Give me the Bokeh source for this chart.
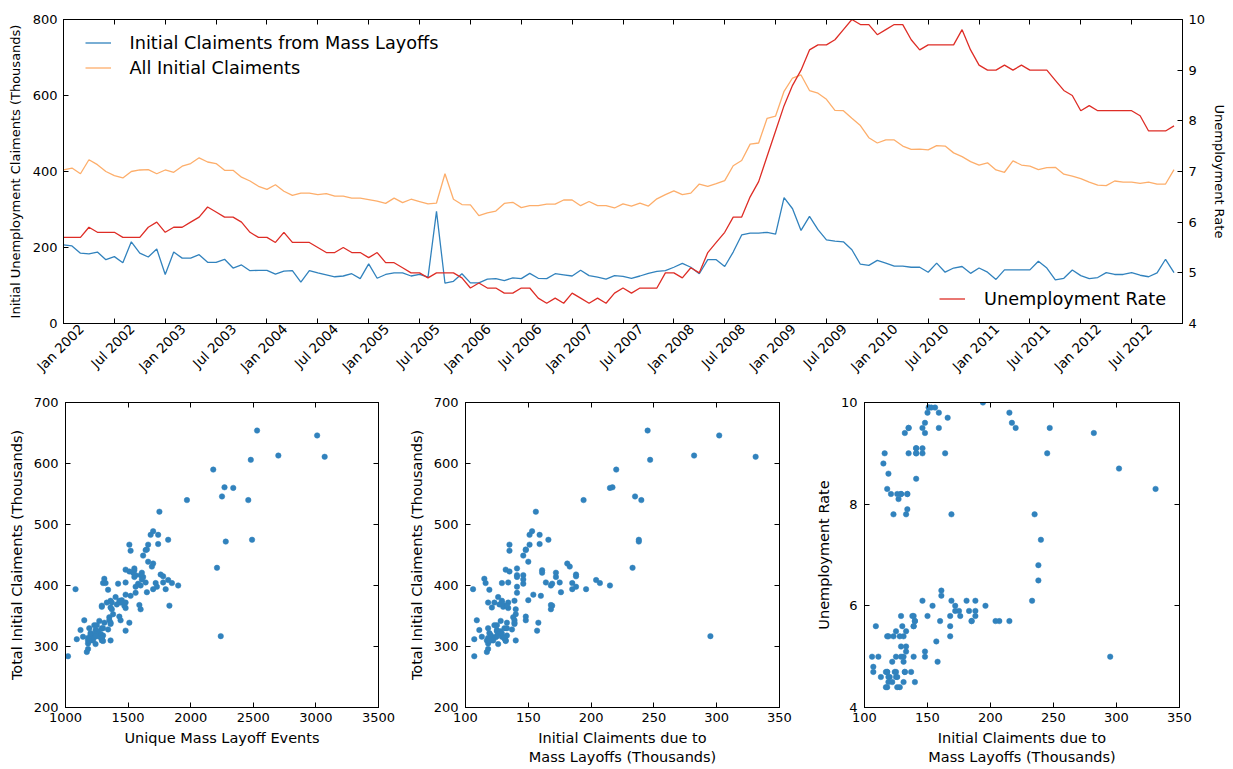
import math
from bokeh.plotting import figure
from bokeh.models import (LinearAxis, Range1d, FixedTicker, CustomJSTickFormatter,
                          Legend, LegendItem)
from bokeh.layouts import column, row
from bokeh.embed import file_html
from bokeh.resources import INLINE

# ---------------- data (monthly, Jan 2002 .. Dec 2012) ----------------
months = list(range(132))  # month index, 0 = Jan 2002

tick_months = [0, 6, 12, 18, 24, 30, 36, 42, 48, 54, 60, 66, 72, 78, 84, 90, 96, 102, 108, 114, 120, 126]
tick_labels = ["Jan 2002", "Jul 2002", "Jan 2003", "Jul 2003", "Jan 2004", "Jul 2004",
               "Jan 2005", "Jul 2005", "Jan 2006", "Jul 2006", "Jan 2007", "Jul 2007",
               "Jan 2008", "Jul 2008", "Jan 2009", "Jul 2009", "Jan 2010", "Jul 2010",
               "Jan 2011", "Jul 2011", "Jan 2012", "Jul 2012"]

mass_layoff_claims = [
    207, 204, 185, 183, 188, 168, 176, 160, 215, 185, 175, 196,
    129, 188, 172, 172, 181, 161, 161, 169, 146, 154, 139, 140,
    140, 130, 138, 139, 109, 139, 133, 128, 123, 125, 131, 118,
    157, 119, 129, 133, 133, 125, 129, 122, 295, 106, 111, 131,
    107, 107, 117, 118, 113, 120, 118, 132, 119, 118, 131, 128,
    125, 140, 126, 122, 117, 126, 124, 119, 125, 132, 137, 139,
    148, 158, 148, 131, 168, 168, 150, 188, 233, 238, 238, 240,
    235, 331, 302, 245, 282, 247, 220, 217, 215, 194, 156, 153,
    166, 159, 151, 151, 148, 148, 135, 159, 135, 146, 150, 132,
    146, 135, 116, 141, 141, 141, 141, 164, 146, 115, 119, 141,
    126, 118, 121, 134, 129, 129, 134, 127, 123, 133, 169, 134]

all_claims = [
    404, 409, 394, 431, 418, 400, 389, 383, 400, 404, 405, 394,
    404, 398, 414, 421, 436, 425, 421, 403, 403, 385, 375, 361,
    353, 365, 348, 337, 343, 343, 339, 342, 335, 335, 330, 330,
    326, 322, 316, 330, 318, 327, 321, 315, 317, 394, 327, 313,
    312, 284, 291, 296, 316, 319, 305, 310, 310, 314, 314, 325,
    325, 310, 321, 310, 310, 304, 315, 309, 317, 309, 328, 339,
    349, 339, 343, 367, 361, 368, 376, 415, 429, 472, 475, 540,
    546, 611, 646, 654, 613, 606, 590, 561, 560, 540, 521, 489,
    475, 483, 483, 467, 458, 459, 457, 468, 467, 449, 439, 426,
    417, 423, 404, 398, 428, 417, 414, 405, 410, 411, 393, 388,
    381, 372, 364, 363, 375, 372, 372, 369, 372, 367, 367, 405]

unemployment_rate = [
    5.7, 5.7, 5.7, 5.9, 5.8, 5.8, 5.8, 5.7, 5.7, 5.7, 5.9, 6.0,
    5.8, 5.9, 5.9, 6.0, 6.1, 6.3, 6.2, 6.1, 6.1, 6.0, 5.8, 5.7,
    5.7, 5.6, 5.8, 5.6, 5.6, 5.6, 5.5, 5.4, 5.4, 5.5, 5.4, 5.4,
    5.3, 5.4, 5.2, 5.2, 5.1, 5.0, 5.0, 4.9, 5.0, 5.0, 5.0, 4.9,
    4.7, 4.8, 4.7, 4.7, 4.6, 4.6, 4.7, 4.7, 4.5, 4.4, 4.5, 4.4,
    4.6, 4.5, 4.4, 4.5, 4.4, 4.6, 4.7, 4.6, 4.7, 4.7, 4.7, 5.0,
    5.0, 4.9, 5.1, 5.0, 5.4, 5.6, 5.8, 6.1, 6.1, 6.5, 6.8, 7.3,
    7.8, 8.3, 8.7, 9.0, 9.4, 9.5, 9.5, 9.6, 9.8, 10.0, 9.9, 9.9,
    9.7, 9.8, 9.9, 9.9, 9.6, 9.4, 9.5, 9.5, 9.5, 9.5, 9.8, 9.4,
    9.1, 9.0, 9.0, 9.1, 9.0, 9.1, 9.0, 9.0, 9.0, 8.8, 8.6, 8.5,
    8.2, 8.3, 8.2, 8.2, 8.2, 8.2, 8.2, 8.1, 7.8, 7.8, 7.8, 7.9]

mass_layoff_events = [
    1850, 1820, 1700, 1690, 1760, 1600, 1650, 1520, 1900, 1720, 1640, 1800,
    1300, 1730, 1620, 1610, 1700, 1550, 1540, 1580, 1420, 1480, 1360, 1370,
    1380, 1290, 1350, 1360, 1150, 1350, 1310, 1270, 1230, 1250, 1290, 1190,
    1480, 1200, 1270, 1300, 1300, 1240, 1280, 1220, 2240, 1080, 1120, 1290,
    1090, 1020, 1170, 1180, 1140, 1200, 1180, 1290, 1190, 1180, 1290, 1260,
    1250, 1360, 1240, 1220, 1180, 1240, 1230, 1190, 1240, 1300, 1340, 1360,
    1430, 1510, 1440, 1290, 1600, 1590, 1450, 1780, 2210, 2280, 2490, 2460,
    2250, 3070, 3010, 2530, 2700, 2480, 2180, 2270, 2340, 1970, 1750, 1700,
    1820, 1740, 1680, 1660, 1640, 1650, 1520, 1740, 1510, 1620, 1660, 1480,
    1600, 1510, 1320, 1560, 1550, 1560, 1550, 1780, 1610, 1310, 1340, 1560,
    1400, 1330, 1360, 1480, 1430, 1440, 1480, 1410, 1370, 1470, 1830, 1480]

# ---------------- styling ----------------
FONT = "DejaVu Sans"
BLUE = "#3182bd"
ORANGE = "#fdae6b"
RED = "#de2d26"


def style_axis(ax, show_labels=True, tick_fs="13px", label_fs="13px"):
    ax.major_tick_in = 5
    ax.major_tick_out = 0
    ax.minor_tick_line_color = None
    ax.axis_line_color = "black"
    ax.major_tick_line_color = "black"
    ax.major_label_text_font = FONT
    if show_labels:
        ax.major_label_text_color = "black"
        ax.major_label_text_font_size = tick_fs
        ax.major_label_standoff = 6
    else:
        ax.major_label_text_color = None
        ax.major_label_text_font_size = "0px"
        ax.major_label_standoff = 0
    ax.axis_label_text_font = FONT
    ax.axis_label_text_font_size = label_fs
    ax.axis_label_text_font_style = "normal"
    ax.axis_label_text_color = "black"


# ---------------- top time-series chart ----------------
p = figure(frame_width=1119, frame_height=304,
           x_range=Range1d(0, 132), y_range=Range1d(0, 800),
           min_border_left=63, min_border_right=51, min_border_top=19, min_border_bottom=62,
           output_backend="svg", toolbar_location=None)
p.extra_y_ranges = {"rate": Range1d(4, 10)}
p.xgrid.visible = False
p.ygrid.visible = False
p.outline_line_color = "black"
p.background_fill_color = "white"

r1 = p.line(months, mass_layoff_claims, line_color=BLUE, line_width=1.3)
r2 = p.line(months, all_claims, line_color=ORANGE, line_width=1.3)
r3 = p.line(months, unemployment_rate, line_color=RED, line_width=1.3, y_range_name="rate")

# bottom axis: tick marks only
xa = p.xaxis[0]
xa.ticker = FixedTicker(ticks=tick_months)
style_axis(xa, show_labels=False)

# rotated date labels centred on their ticks
SHIFT = 2.1
xlab = LinearAxis(ticker=FixedTicker(ticks=[m + SHIFT for m in tick_months]),
                  formatter=CustomJSTickFormatter(args=dict(labels=tick_labels, shift=SHIFT),
                                                  code="return labels[Math.round((tick - shift) / 6)];"))
style_axis(xlab, tick_fs="13.5px")
xlab.major_tick_line_color = None
xlab.axis_line_color = None
xlab.major_label_orientation = math.pi / 4
xlab.major_label_standoff = 3
p.add_layout(xlab, "below")

xtop = LinearAxis(ticker=FixedTicker(ticks=tick_months))
style_axis(xtop, show_labels=False)
p.add_layout(xtop, "above")

ya = p.yaxis[0]
ya.ticker = FixedTicker(ticks=[0, 200, 400, 600, 800])
style_axis(ya)
ya.axis_label = "Initial Unemployment Claiments (Thousands)"
ya.axis_label_standoff = 7

yr = LinearAxis(y_range_name="rate", ticker=FixedTicker(ticks=[4, 5, 6, 7, 8, 9, 10]),
                axis_label="Unemployment Rate")
style_axis(yr)
yr.axis_label_standoff = 4
p.add_layout(yr, "right")


def make_legend(items, loc):
    lg = Legend(items=items, location=loc)
    lg.border_line_color = None
    lg.background_fill_alpha = 0
    lg.label_text_font = FONT
    lg.label_text_font_size = "17.7px"
    lg.label_text_color = "black"
    lg.glyph_width = 26
    lg.glyph_height = 21
    lg.label_height = 21
    lg.label_standoff = 19
    lg.spacing = 4
    lg.padding = 0
    lg.margin = 0
    return lg


p.add_layout(make_legend([LegendItem(label="Initial Claiments from Mass Layoffs", renderers=[r1]),
                          LegendItem(label="All Initial Claiments", renderers=[r2])], (21.5, 245)))
p.add_layout(make_legend([LegendItem(label="Unemployment Rate", renderers=[r3])], (876, 14)))


# ---------------- bottom scatter plots ----------------
def scatter_fig(x, y, xr, yr_, xticks, yticks, xlabel, ylabel, left, fw, right):
    f = figure(frame_width=fw, frame_height=305,
               x_range=Range1d(*xr), y_range=Range1d(*yr_),
               min_border_left=left, min_border_right=right, min_border_top=17, min_border_bottom=62,
               output_backend="svg", toolbar_location=None)
    f.xgrid.visible = False
    f.ygrid.visible = False
    f.outline_line_color = "black"
    f.scatter(x, y, size=5.5, fill_color=BLUE, line_color=BLUE, line_width=0.5)
    f.xaxis[0].ticker = FixedTicker(ticks=xticks)
    f.yaxis[0].ticker = FixedTicker(ticks=yticks)
    style_axis(f.xaxis[0], label_fs="14.5px")
    style_axis(f.yaxis[0], label_fs="14.5px")
    f.xaxis[0].axis_label = xlabel
    f.yaxis[0].axis_label = ylabel
    f.xaxis[0].major_label_standoff = 5
    f.xaxis[0].axis_label_standoff = 5
    f.yaxis[0].major_label_standoff = 7
    f.yaxis[0].axis_label_standoff = 6
    top = LinearAxis(ticker=FixedTicker(ticks=xticks))
    style_axis(top, show_labels=False)
    f.add_layout(top, "above")
    rgt = LinearAxis(ticker=FixedTicker(ticks=yticks))
    style_axis(rgt, show_labels=False)
    f.add_layout(rgt, "right")
    return f


f1 = scatter_fig(mass_layoff_events, all_claims, (1000, 3500), (200, 700),
                 [1000, 1500, 2000, 2500, 3000, 3500], [200, 300, 400, 500, 600, 700],
                 "Unique Mass Layoff Events", "Total Initial Claiments (Thousands)", 65, 313, 27)
f2 = scatter_fig(mass_layoff_claims, all_claims, (100, 350), (200, 700),
                 [100, 150, 200, 250, 300, 350], [200, 300, 400, 500, 600, 700],
                 "Initial Claiments due to\nMass Layoffs (Thousands)",
                 "Total Initial Claiments (Thousands)", 58, 314, 28)
f3 = scatter_fig(mass_layoff_claims, unemployment_rate, (100, 350), (4, 10),
                 [100, 150, 200, 250, 300, 350], [4, 6, 8, 10],
                 "Initial Claiments due to\nMass Layoffs (Thousands)",
                 "Unemployment Rate", 57, 315, 56)

layout = column(p, row(f1, f2, f3))
open("out.html", "w").write(file_html(layout, INLINE))
